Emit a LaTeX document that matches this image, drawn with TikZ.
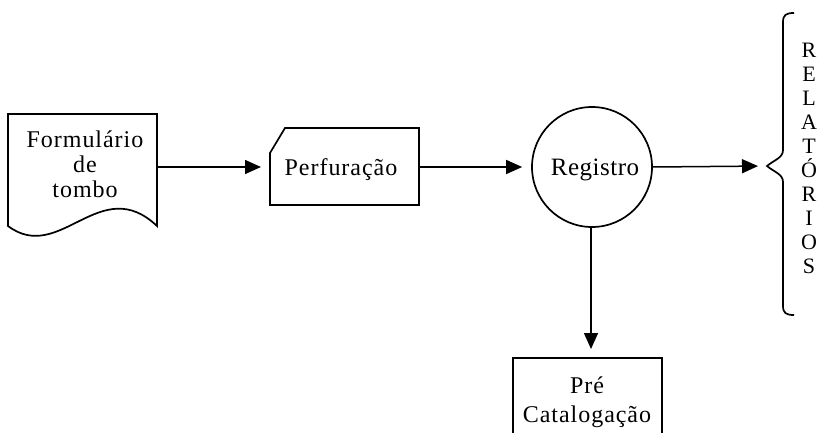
\documentclass[tikz,border=0pt]{standalone}
\usepackage{fontspec}
\setmainfont{Liberation Serif}
\newfontfamily\spacedfont[LetterSpace=4]{Liberation Serif}
\newfontfamily\regfont[LetterSpace=2]{Liberation Serif}
\usetikzlibrary{arrows.meta}
\begin{document}
\begin{tikzpicture}[x=1pt,y=-1pt,
  shapeline/.style={line width=1.7pt,line join=miter},
  flow/.style={line width=1.5pt,-{Triangle[length=16pt,width=14pt]},shorten >=9pt},
  lbl/.style={font=\fontsize{24}{25}\spacedfont,align=center,inner sep=0pt,anchor=base},
  ]
\useasboundingbox (0,0) rectangle (818,433);
% document shape
\draw[shapeline] (8,226) -- (8,114) -- (157,114) -- (157,226)
   .. controls (100,172) and (60,265) .. (8,226) -- cycle;
\coordinate (docE) at (157,167);
\node[lbl] (doc) at (85,197) {Formulário\\de\\tombo};
% perfuracao card
\draw[shapeline] (270,153) -- (285,128) -- (419,128) -- (419,205) -- (270,205) -- cycle;
\coordinate (perfW) at (270,167);
\coordinate (perfE) at (419,167);
\node[lbl] (perf) at (341,175) {Perfuração};
% registro circle
\node[circle,draw,line width=1.7pt,minimum size=120pt,inner sep=0pt] (reg) at (592,167) {};
\node[lbl,font=\fontsize{25}{28}\regfont] (regt) at (595,175) {Registro};
% pre catalogacao box
\draw[shapeline] (513,440) -- (513,358) -- (662,358) -- (662,440);
\coordinate (preN) at (591,358);
\node[lbl,font=\fontsize{24}{29}\spacedfont] (pre) at (587,422) {Pré\\Catalogação};
% brace
\draw[line width=1.7pt] (794,13) .. controls (786,13) and (783,15) .. (783,22) -- (783,150)
   .. controls (783,158) and (774,160) .. (767,166)
   .. controls (774,172) and (783,174) .. (783,182) -- (783,306)
   .. controls (783,313) and (786,315) .. (794,315);
\coordinate (brace) at (767,166);
\node[font=\fontsize{22}{24}\selectfont,align=center,inner sep=0pt,anchor=base] (rel) at (809,273)
  {R\\E\\L\\A\\T\\Ó\\R\\I\\O\\S};
% connectors
\draw[flow] (docE) -- (perfW);
\draw[flow] (perfE) -- (reg.west);
\draw[flow] (reg.east) -- (brace);
\draw[flow] (reg.south -| preN) -- (preN);
\end{tikzpicture}
\end{document}
